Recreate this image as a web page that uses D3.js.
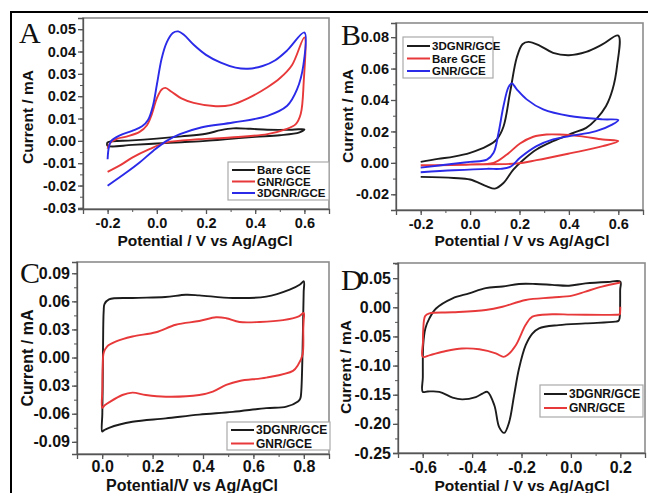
<!DOCTYPE html>
<html>
<head>
<meta charset="utf-8">
<script src="https://cdn.jsdelivr.net/npm/d3@7"></script>
<style>
  body { margin: 0; background: #fff; }
  text { font-family: "Liberation Sans", Arial, sans-serif; font-weight: bold; fill: #111; }
  .letter { font-family: "Liberation Serif", "Times New Roman", serif; font-weight: normal; }
</style>
</head>
<body>
<svg id="chart" width="648" height="493"></svg>
<script>
// ---- data (potential V, current mA) ----
// panel A
const aBare = [[-0.2,-0.0007],[-0.1,0.0002],[0.0,0.001],[0.1,0.002],[0.2,0.0032],[0.26,0.0048],[0.31,0.0056],[0.38,0.0054],[0.45,0.005],[0.55,0.005],[0.6,0.0052],
  [0.58,0.0038],[0.5,0.0025],[0.4,0.0018],[0.3,0.0009],[0.2,0.0],[0.1,-0.0006],[0.0,-0.0012],[-0.1,-0.0018],[-0.2,-0.0022]];
const aGNR = [[-0.2,-0.0035],[-0.19,-0.001],[-0.16,0.001],[-0.12,0.002],[-0.07,0.004],[-0.04,0.007],[-0.02,0.012],[0.0,0.019],[0.02,0.023],[0.035,0.0237],[0.06,0.022],[0.1,0.019],[0.15,0.017],[0.24,0.0155],[0.3,0.016],[0.37,0.019],[0.45,0.024],[0.5,0.028],[0.55,0.034],[0.6,0.0463],
  [0.597,0.026],[0.585,0.012],[0.565,0.0075],[0.52,0.005],[0.45,0.003],[0.3,0.0015],[0.17,0.0007],[0.04,-0.0007],[-0.03,-0.0037],[-0.1,-0.0075],[-0.15,-0.011],[-0.2,-0.0139]];
const a3D = [[-0.2,-0.0082],[-0.195,-0.003],[-0.185,0.0],[-0.15,0.0025],[-0.1,0.0045],[-0.06,0.0065],[-0.035,0.0095],[-0.015,0.016],[0.0,0.025],[0.02,0.037],[0.04,0.044],[0.065,0.0483],[0.087,0.049],[0.11,0.0475],[0.15,0.043],[0.2,0.0385],[0.26,0.035],[0.32,0.0328],[0.37,0.0323],[0.43,0.0335],[0.48,0.036],[0.53,0.0405],[0.6,0.0485],
  [0.596,0.034],[0.57,0.023],[0.53,0.0157],[0.45,0.0112],[0.31,0.0082],[0.18,0.006],[0.094,0.003],[0.04,0.0],[-0.015,-0.0045],[-0.07,-0.0097],[-0.124,-0.0142],[-0.2,-0.0201]];
// panel B
const b3D = [[-0.2,0.0006],[-0.13,0.0025],[-0.066,0.004],[0.0,0.0064],[0.068,0.0106],[0.108,0.015],[0.135,0.023],[0.162,0.045],[0.189,0.067],[0.212,0.0755],[0.236,0.077],[0.283,0.0745],[0.336,0.07],[0.4,0.0685],[0.47,0.0706],[0.537,0.0755],[0.6,0.081],
  [0.595,0.0617],[0.577,0.0468],[0.55,0.036],[0.51,0.0277],[0.47,0.0223],[0.417,0.019],[0.336,0.0138],[0.269,0.0085],[0.216,0.002],[0.175,-0.0043],[0.135,-0.0128],[0.1,-0.0164],[0.068,-0.015],[0.0,-0.0106],[-0.066,-0.0096],[-0.2,-0.0089]];
const bBare = [[-0.2,-0.0015],[0.0,-0.001],[0.095,0.0],[0.149,0.0053],[0.202,0.0123],[0.256,0.0166],[0.309,0.018],[0.363,0.018],[0.443,0.017],[0.537,0.0149],[0.6,0.0138],
  [0.537,0.0106],[0.403,0.006],[0.269,0.0017],[0.189,-0.0004],[0.0,-0.001],[-0.2,-0.0017]];
const bGNR = [[-0.2,-0.003],[-0.066,-0.0006],[0.0,0.0006],[0.068,0.002],[0.095,0.0064],[0.115,0.019],[0.135,0.036],[0.155,0.048],[0.169,0.0506],[0.189,0.0468],[0.229,0.0404],[0.296,0.034],[0.403,0.0298],[0.537,0.0277],[0.6,0.0272],
  [0.577,0.0245],[0.51,0.0202],[0.403,0.017],[0.336,0.0149],[0.269,0.0106],[0.202,0.0032],[0.162,-0.0026],[0.122,-0.0038],[0.068,-0.0038],[-0.066,-0.0047],[-0.2,-0.006]];
// panel C (closed loops)
const c3D = [[0.0,-0.079],[0.0005,-0.06],[0.002,-0.03],[0.004,0.03],[0.006,0.05],[0.009,0.057],[0.027,0.062],[0.12,0.0636],[0.25,0.0646],[0.332,0.067],[0.385,0.0664],[0.518,0.0636],[0.651,0.065],[0.744,0.0725],[0.785,0.078],[0.8,0.0814],
  [0.7995,0.07],[0.798,0.049],[0.79,-0.036],[0.786,-0.044],[0.777,-0.047],[0.731,-0.0525],[0.651,-0.054],[0.518,-0.058],[0.385,-0.061],[0.252,-0.065],[0.12,-0.0686],[0.027,-0.075],[0.008,-0.0775]];
const cGNR = [[0.0,-0.0536],[0.0005,-0.035],[0.002,-0.01],[0.006,0.005],[0.02,0.012],[0.053,0.017],[0.12,0.0225],[0.213,0.027],[0.292,0.035],[0.385,0.039],[0.452,0.043],[0.492,0.042],[0.545,0.038],[0.625,0.038],[0.718,0.04],[0.78,0.044],[0.8,0.0475],
  [0.7995,0.04],[0.798,0.031],[0.795,0.003],[0.777,-0.008],[0.757,-0.0143],[0.651,-0.0214],[0.545,-0.025],[0.492,-0.0293],[0.439,-0.0364],[0.385,-0.04],[0.252,-0.0418],[0.173,-0.04],[0.12,-0.0375],[0.08,-0.04],[0.027,-0.0479],[0.01,-0.051]];
// panel D
const d3D = [[-0.6,-0.145],[-0.5995,-0.12],[-0.598,-0.065],[-0.589,-0.036],[-0.573,-0.019],[-0.546,-0.002],[-0.479,0.0155],[-0.412,0.024],[-0.345,0.033],[-0.277,0.0356],[-0.21,0.04],[-0.143,0.04],[-0.076,0.0385],[-0.008,0.037],[0.059,0.041],[0.15,0.0435],[0.2,0.044],
  [0.1995,0.03],[0.197,-0.019],[0.193,-0.023],[0.18,-0.0247],[0.059,-0.0276],[-0.049,-0.0305],[-0.129,-0.036],[-0.156,-0.045],[-0.183,-0.065],[-0.21,-0.105],[-0.23,-0.151],[-0.25,-0.197],[-0.27,-0.2155],[-0.29,-0.206],[-0.31,-0.168],[-0.338,-0.145],[-0.358,-0.148],[-0.385,-0.154],[-0.44,-0.158],[-0.479,-0.155],[-0.533,-0.145],[-0.58,-0.1445]];
const dGNR = [[0.2,0.001],[0.1995,-0.008],[0.198,-0.012],[0.185,-0.0128],[0.13,-0.013],[0.0,-0.0125],[-0.076,-0.012],[-0.156,-0.016],[-0.183,-0.03],[-0.223,-0.065],[-0.257,-0.082],[-0.273,-0.085],[-0.304,-0.079],[-0.371,-0.072],[-0.44,-0.0707],[-0.506,-0.075],[-0.57,-0.082],[-0.6,-0.085],
  [-0.599,-0.06],[-0.598,-0.04],[-0.59,-0.015],[-0.573,-0.0103],[-0.479,-0.0086],[-0.345,-0.0046],[-0.277,0.001],[-0.183,0.0126],[-0.076,0.0167],[0.005,0.02],[0.059,0.027],[0.126,0.0356],[0.2,0.0425]];

// tick values and labels
const aXTicks = [-0.2, 0.0, 0.2, 0.4, 0.6], aXLabels = ["-0.2", "0.0", "0.2", "0.4", "0.6"];
const aYTicks = [0.05, 0.04, 0.03, 0.02, 0.01, 0.0, -0.01, -0.02, -0.03];
const aYLabels = ["0.05", "0.04", "0.03", "0.02", "0.01", "0.00", "-0.01", "-0.02", "-0.03"];
const bXTicks = aXTicks, bXLabels = aXLabels;
const bYTicks = [0.08, 0.06, 0.04, 0.02, 0.0, -0.02], bYLabels = ["0.08", "0.06", "0.04", "0.02", "0.00", "-0.02"];
const cXTicks = [0.0, 0.2, 0.4, 0.6, 0.8], cXLabels = ["0.0", "0.2", "0.4", "0.6", "0.8"];
const cYTicks = [0.09, 0.06, 0.03, 0.0, -0.03, -0.06, -0.09];
const cYLabels = ["0.09", "0.06", "0.03", "0.00", "0.03", "-0.06", "-0.09"];
const dXTicks = [-0.6, -0.4, -0.2, 0.0, 0.2], dXLabels = ["-0.6", "-0.4", "-0.2", "0.0", "0.2"];
const dYTicks = [0.05, 0.0, -0.05, -0.10, -0.15, -0.20, -0.25];
const dYLabels = ["0.05", "0.00", "-0.05", "-0.10", "-0.15", "-0.20", "-0.25"];

const BLACK = "#1c1c1c", RED = "#e8393a", BLUE = "#2a2ae8";

const svg = d3.select("#chart");

// outer border (left and top only visible)
svg.append("path").attr("d", "M11,493 V12 H648").attr("fill", "none").attr("stroke", "#000").attr("stroke-width", 2);

function drawPanel(p) {
  const g = svg.append("g");
  const x = d3.scaleLinear().domain(p.xDomain).range([p.left, p.right]);
  const y = d3.scaleLinear().domain(p.yDomain).range([p.bottom, p.top]);

  g.append("rect")
    .attr("x", p.left).attr("y", p.top)
    .attr("width", p.right - p.left).attr("height", p.bottom - p.top)
    .attr("fill", "#fff").attr("stroke", "#8c8c8c").attr("stroke-width", 1.6);

  // minor ticks
  g.append("g").attr("transform", `translate(0,${p.bottom})`)
    .call(d3.axisBottom(x).tickValues(p.xMinor).tickSize(3).tickFormat(""))
    .call(a => a.select(".domain").remove());
  g.append("g").attr("transform", `translate(${p.left},0)`)
    .call(d3.axisLeft(y).tickValues(p.yMinor).tickSize(3).tickFormat(""))
    .call(a => a.select(".domain").remove());

  const xa = g.append("g").attr("transform", `translate(0,${p.bottom})`)
    .call(d3.axisBottom(x).tickValues(p.xTicks).tickSize(5).tickPadding(p.xPad || 4)
      .tickFormat((d, i) => p.xLabels[i]));
  const ya = g.append("g").attr("transform", `translate(${p.left},0)`)
    .call(d3.axisLeft(y).tickValues(p.yTicks).tickSize(5).tickPadding(2)
      .tickFormat((d, i) => p.yLabels[i]));
  for (const a of [xa, ya]) {
    a.selectAll("line, .domain").attr("stroke", "#555").attr("stroke-width", 1.3);
    a.selectAll("text").attr("font-size", p.tickSize).attr("fill", "#111")
      .style("font-family", '"Liberation Sans", Arial, sans-serif').style("font-weight", "bold");
  }
  g.selectAll(".tick line").attr("stroke", "#555");

  const line = d3.line().x(d => x(d[0])).y(d => y(d[1]));
  for (const s of p.series) {
    g.append("path").datum(s.data)
      .attr("fill", "none").attr("stroke", s.color).attr("stroke-width", 1.9)
      .attr("stroke-linejoin", "round")
      .attr("d", line.curve(s.closed ? d3.curveCatmullRomClosed.alpha(0.5) : d3.curveCatmullRom.alpha(0.5)));
  }

  // legend
  const L = p.legend;
  g.append("rect").attr("x", L.x).attr("y", L.y).attr("width", L.w).attr("height", L.h)
    .attr("fill", "#fff").attr("stroke", "#aaa").attr("stroke-width", 1.2);
  p.series.forEach((s, i) => {
    const ly = L.y + L.first + i * L.step;
    g.append("line").attr("x1", L.x + 4).attr("x2", L.x + 27).attr("y1", ly).attr("y2", ly)
      .attr("stroke", s.color).attr("stroke-width", 2);
    g.append("text").attr("x", L.x + 29).attr("y", ly).attr("dy", "0.36em")
      .attr("font-size", L.font).text(s.name);
  });

  // titles
  g.append("text").attr("transform", `translate(${p.yTitle[0]},${p.yTitle[1]}) rotate(-90)`)
    .attr("text-anchor", "middle").attr("dy", "0.36em").attr("font-size", p.titleSize).text("Current / mA");
  g.append("text").attr("x", p.xTitle[0]).attr("y", p.xTitle[1]).attr("dy", "0.36em")
    .attr("text-anchor", "middle").attr("font-size", p.titleSize).text(p.xName);
  g.append("text").attr("class", "letter").attr("x", p.letterPos[0]).attr("y", p.letterPos[1])
    .attr("font-size", 30).text(p.letter);
}

const minorX = (a, b) => d3.range(Math.round(a * 10), Math.round(b * 10) + 1).map(v => v / 10);

drawPanel({
  letter: "A", letterPos: [19, 43],
  left: 83, right: 329, top: 18, bottom: 209,
  xDomain: [-0.3, 0.7], yDomain: [-0.0305, 0.055],
  xTicks: aXTicks, xLabels: aXLabels, yTicks: aYTicks, yLabels: aYLabels,
  xMinor: minorX(-0.3, 0.7), yMinor: d3.range(-6, 11).map(v => v * 0.005),
  tickSize: 14.5, titleSize: 15.5,
  yTitle: [27, 117], xTitle: [205, 240], xName: "Potential / V vs Ag/AgCl",
  series: [
    { name: "Bare GCE", color: BLACK, data: aBare, closed: true },
    { name: "GNR/GCE", color: RED, data: aGNR },
    { name: "3DGNR/GCE", color: BLUE, data: a3D }
  ],
  legend: { x: 228, y: 162, w: 101, h: 38, first: 8, step: 11.5, font: 11.5 }
});

drawPanel({
  letter: "B", letterPos: [341, 45],
  left: 396, right: 643, top: 23, bottom: 210,
  xDomain: [-0.3, 0.7], yDomain: [-0.03, 0.089],
  xTicks: bXTicks, xLabels: bXLabels, yTicks: bYTicks, yLabels: bYLabels,
  xMinor: minorX(-0.3, 0.7), yMinor: d3.range(-3, 9).map(v => v * 0.01),
  tickSize: 14.5, titleSize: 15.5,
  yTitle: [347, 116], xTitle: [522, 240], xName: "Potential / V vs Ag/AgCl",
  series: [
    { name: "3DGNR/GCE", color: BLACK, data: b3D },
    { name: "Bare GCE", color: RED, data: bBare },
    { name: "GNR/GCE", color: BLUE, data: bGNR }
  ],
  legend: { x: 403, y: 37, w: 90, h: 41, first: 9, step: 12.5, font: 11.5 }
});

drawPanel({
  letter: "C", letterPos: [20, 283],
  left: 77, right: 329, top: 262, bottom: 454,
  xDomain: [-0.1, 0.9], yDomain: [-0.103, 0.102],
  xTicks: cXTicks, xLabels: cXLabels, yTicks: cYTicks, yLabels: cYLabels,
  xMinor: minorX(-0.1, 0.9), yMinor: d3.range(-6, 7).map(v => v * 0.015),
  tickSize: 16, titleSize: 16, xPad: 2,
  yTitle: [27, 358], xTitle: [192, 485], xName: "Potential/V vs Ag/AgCl",
  series: [
    { name: "3DGNR/GCE", color: BLACK, data: c3D, closed: true },
    { name: "GNR/GCE", color: RED, data: cGNR, closed: true }
  ],
  legend: { x: 227, y: 422, w: 103, h: 28, first: 8, step: 13.5, font: 12 }
});

drawPanel({
  letter: "D", letterPos: [341, 290],
  left: 398, right: 645, top: 263, bottom: 453,
  xDomain: [-0.7, 0.3], yDomain: [-0.25, 0.076],
  xTicks: dXTicks, xLabels: dXLabels, yTicks: dYTicks, yLabels: dYLabels,
  xMinor: minorX(-0.7, 0.3), yMinor: d3.range(-10, 4).map(v => v * 0.025),
  tickSize: 16, titleSize: 15.5,
  yTitle: [345, 367], xTitle: [522, 485], xName: "Potential / V vs Ag/AgCl",
  series: [
    { name: "3DGNR/GCE", color: BLACK, data: d3D, closed: true },
    { name: "GNR/GCE", color: RED, data: dGNR }
  ],
  legend: { x: 540, y: 385, w: 103, h: 32, first: 9, step: 14, font: 12 }
});
</script>
</body>
</html>
